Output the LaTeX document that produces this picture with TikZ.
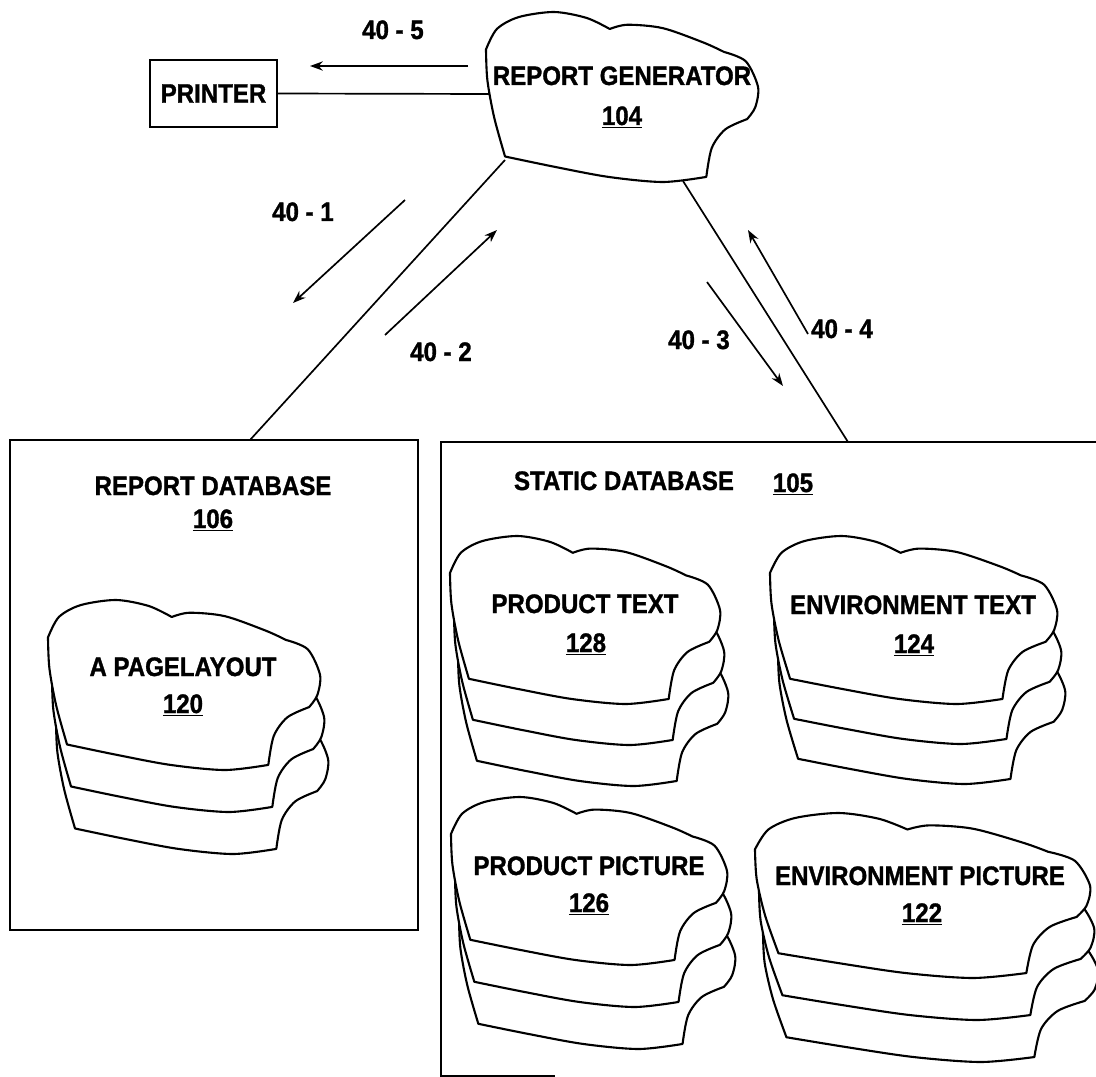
\documentclass[tikz,border=0pt]{standalone}
\usepackage{fontspec}
\setmainfont{Liberation Sans}[FakeStretch=0.9,BoldFeatures={FakeBold=1.2}]
\usetikzlibrary{arrows.meta}
\tikzset{
  lbl/.style={font=\bfseries\fontsize{19}{22}\selectfont, inner sep=0pt, anchor=base},
  ln/.style={line width=1.2pt},
  boxln/.style={line width=1.5pt},
  arr/.style={line width=1.2pt, -{Stealth[length=3.2mm,width=2.3mm]}},
  cloudshape/.style={line width=1.5pt, draw=black, fill=white, line join=round},
}
\newcommand{\mycloud}[4]{%
  \begin{scope}[shift={({#1},{#2})},xscale=#3,yscale=#4]
    \draw[cloudshape]
      plot[smooth] coordinates {(0,0.22) (0.04,0.10) (0.12,0.03) (0.25,0) (0.37,0.035) (0.455,0.10)}
      -- plot[smooth] coordinates {(0.455,0.10) (0.52,0.075) (0.65,0.095) (0.80,0.18) (0.875,0.235)}
      -- plot[smooth] coordinates {(0.875,0.235) (0.955,0.29) (1.0,0.44) (0.99,0.56) (0.96,0.63)}
      -- plot[smooth] coordinates {(0.96,0.63) (0.88,0.69) (0.83,0.80) (0.81,0.97)}
      -- plot[smooth] coordinates {(0.81,0.97) (0.65,1.0) (0.45,0.97) (0.25,0.91) (0.07,0.85)}
      -- plot[smooth] coordinates {(0.07,0.85) (0.03,0.62) (0.005,0.40) (0,0.22)}
      -- cycle;
  \end{scope}}
\newcommand{\cloudstack}[5]{%
  \mycloud{#1+8}{#2+2*#5}{#3}{#4}
  \mycloud{#1+4}{#2+#5}{#3}{#4}
  \mycloud{#1}{#2}{#3}{#4}}
\begin{document}
\begin{tikzpicture}[x=0.25mm,y=-0.25mm]
  \useasboundingbox (0,0) rectangle (1096,1077);
  % boxes
  \draw[boxln] (10,440) rectangle (418,930);
  \draw[boxln] (1096,442) -- (441,442) -- (441,1076) -- (555,1076);
  % clouds
  \mycloud{486}{12}{272}{170}
  \cloudstack{48}{600}{272}{170}{42}
  \cloudstack{450}{536}{270}{168}{41}
  \cloudstack{770}{536}{287}{168}{40}
  \cloudstack{451}{797}{276}{168}{42}
  \cloudstack{755}{813}{335}{165}{42}
  % printer
  \node[draw, boxln, minimum width=31.75mm, minimum height=16.75mm, inner sep=0pt,
        font=\bfseries\fontsize{19}{22}\selectfont] (printer) at (213.5,93.5) {PRINTER};
  % named coordinates
  \coordinate (rgW) at (489,94);
  \coordinate (rgSW) at (505,160);
  \coordinate (rgS) at (683,181);
  \coordinate (rdbTop) at (250,440);
  \coordinate (sdbTop) at (848,442);
  \coordinate (a5s) at (468,66);  \coordinate (a5e) at (310,66);
  \coordinate (a1s) at (405,200); \coordinate (a1e) at (293,303);
  \coordinate (a2s) at (385,335); \coordinate (a2e) at (497,230);
  \coordinate (a3s) at (707,282); \coordinate (a3e) at (783,386);
  \coordinate (a4s) at (808,334); \coordinate (a4e) at (748,230);
  % connectors
  \draw[ln] (printer.east) -- (rgW);
  \draw[ln] (rgSW) -- (rdbTop);
  \draw[ln] (rgS) -- (sdbTop);
  \draw[arr] (a5s) -- (a5e);
  \draw[arr] (a1s) -- (a1e);
  \draw[arr] (a2s) -- (a2e);
  \draw[arr] (a3s) -- (a3e);
  \draw[arr] (a4s) -- (a4e);
  % labels
  \node[lbl] (l405) at (393,39) {40 - 5};
  \node[lbl] (l401) at (303,221) {40 - 1};
  \node[lbl] (l402) at (441,361) {40 - 2};
  \node[lbl] (l403) at (699,349) {40 - 3};
  \node[lbl] (l404) at (842,338) {40 - 4};
  \node[lbl] (rgT) at (622,85) {REPORT GENERATOR};
  \node[lbl] (rgN) at (622,125) {\underline{104}};
  \node[lbl] (rdbT) at (213,495) {REPORT DATABASE};
  \node[lbl] (rdbN) at (213,528) {\underline{106}};
  \node[lbl] (sdbT) at (624,490) {STATIC DATABASE};
  \node[lbl] (sdbN) at (793,492) {\underline{105}};
  \node[lbl] (plT) at (183,676) {A PAGELAYOUT};
  \node[lbl] (plN) at (183,713) {\underline{120}};
  \node[lbl] (ptT) at (585,613) {PRODUCT TEXT};
  \node[lbl] (ptN) at (586,652) {\underline{128}};
  \node[lbl] (etT) at (913,614) {ENVIRONMENT TEXT};
  \node[lbl] (etN) at (914,653) {\underline{124}};
  \node[lbl] (ppT) at (589,875) {PRODUCT PICTURE};
  \node[lbl] (ppN) at (589,912) {\underline{126}};
  \node[lbl] (epT) at (920,885) {ENVIRONMENT PICTURE};
  \node[lbl] (epN) at (922,922) {\underline{122}};
\end{tikzpicture}
\end{document}
